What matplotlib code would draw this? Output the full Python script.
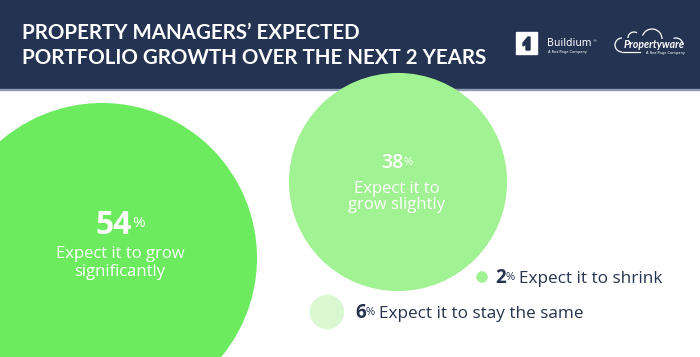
import matplotlib
matplotlib.use('Agg')
import matplotlib.pyplot as plt
from matplotlib.patches import Circle, Rectangle, Arc, Polygon

# data
values = [54, 38, 2, 6]
labels = ['Expect it to grow\nsignificantly', 'Expect it to\ngrow slightly',
          'Expect it to shrink', 'Expect it to stay the same']
title_lines = ['PROPERTY MANAGERS\u2019 EXPECTED', 'PORTFOLIO GROWTH OVER THE NEXT 2 YEARS']

# layout (pixel coords, y down)
centers = [(102, 258), (398, 182), (482, 277), (327, 312)]
colors = ['#6ceb5f', '#a1f293', '#a1f293', '#d9f8d2']
px_per_pct = 155 / 54

NAVY = '#243352'
TEXT_DARK = '#27344f'
FONT = 'Lato'
BODY = 'Open Sans'

fig = plt.figure(figsize=(7, 3.57), dpi=100)
ax = fig.add_axes([0, 0, 1, 1])
ax.set_xlim(0, 700)
ax.set_ylim(357, 0)
ax.axis('off')
renderer = fig.canvas.get_renderer()


def draw_parts(x, y, parts, ha='center', family=BODY):
    """parts: (text, size, weight, color, dy, gap_after)"""
    objs = []
    for s, size, weight, color, dy, gap in parts:
        t = ax.text(0, 0, s, fontsize=size, fontweight=weight, color=color,
                    family=family, va='baseline', ha='left', zorder=10)
        objs.append((t, dy, gap))
    widths = [t.get_window_extent(renderer).width for t, _, _ in objs]
    total = sum(widths) + sum(g for _, _, g in objs[:-1])
    x0 = x - total / 2 if ha == 'center' else x
    for (t, dy, gap), w in zip(objs, widths):
        t.set_position((x0, y + dy))
        x0 += w + gap


# header
ax.add_patch(Rectangle((0, 0), 700, 88.5, color=NAVY, zorder=1))
ax.add_patch(Rectangle((0, 88.5), 700, 1.5, color='#8e9ab0', zorder=1))
ax.text(22, 39, title_lines[0], fontsize=14.8, fontweight='bold', color='white',
        family=FONT, va='baseline', zorder=10)
ax.text(22, 64, title_lines[1], fontsize=14.8, fontweight='bold', color='white',
        family=FONT, va='baseline', zorder=10)

# Buildium logo
ax.add_patch(Rectangle((516, 32), 21, 22, color='white', zorder=10))
ax.add_patch(Polygon([(523, 43), (528, 37), (530, 37), (530, 50), (526, 50),
                      (526, 44), (523, 46)], closed=True, color=NAVY, zorder=11))
draw_parts(547, 46, [('Buildium', 7.3, 'normal', 'white', 0, 0.5),
                     ('\u00ae', 3, 'normal', 'white', -4, 0)], ha='left',
           family='DejaVu Sans')
ax.text(567, 53, 'A RealPage Company', fontsize=2.6, color='white', ha='center',
        va='baseline', zorder=10)

# Propertyware logo
cloud = [((622, 45), 14, 14, 90, 270), ((634, 38), 12, 12, 180, 300),
         ((652, 39), 20, 20, 200, 360), ((676, 45), 14, 14, 250, 360)]
for c, w, h, t1, t2 in cloud:
    ax.add_patch(Arc(c, w, h, theta1=t1, theta2=t2, color='white', lw=0.9, zorder=10))
ax.plot([622, 640], [52, 52], color='white', lw=0.9, zorder=10)
ax.text(685, 48, 'Propertyware', fontsize=7.6, fontweight='bold', style='italic',
        color='white', ha='right', va='baseline', family='Lato', zorder=11)
ax.text(685, 54, 'A RealPage Company', fontsize=2.6, color='white', ha='right',
        va='baseline', zorder=10)

# circles
for v, c, col in zip(values, centers, colors):
    ax.add_patch(Circle(c, v * px_per_pct, color=col, lw=0, zorder=2))

# big circle labels
draw_parts(120, 234, [(str(values[0]), 23, 'bold', 'white', 0, 0),
                      ('%', 11, 'normal', 'white', -7, 0)])
l1, l2 = labels[0].split('\n')
draw_parts(120, 258, [(l1, 12, 'normal', 'white', 0, 0)])
draw_parts(120, 276, [(l2, 12, 'normal', 'white', 0, 0)])

draw_parts(397, 168, [(str(values[1]), 14, 'semibold', 'white', 0, 0),
                      ('%', 8, 'normal', 'white', -3, 0)])
l1, l2 = labels[1].split('\n')
draw_parts(397, 193, [(l1, 12, 'normal', 'white', 0, 0)])
draw_parts(397, 209, [(l2, 12, 'normal', 'white', 0, 0)])

# small labels
draw_parts(495, 283, [(str(values[2]), 13.5, 'bold', TEXT_DARK, 0, 0),
                      ('%', 8, 'normal', TEXT_DARK, -3, 4),
                      (labels[2], 12.3, 'normal', TEXT_DARK, 0, 0)], ha='left')
draw_parts(355, 318, [(str(values[3]), 13.5, 'bold', TEXT_DARK, 0, 0),
                      ('%', 8, 'normal', TEXT_DARK, -3, 4),
                      (labels[3], 12.3, 'normal', TEXT_DARK, 0, 0)], ha='left')

fig.savefig('out.png', dpi=100, facecolor='white')
